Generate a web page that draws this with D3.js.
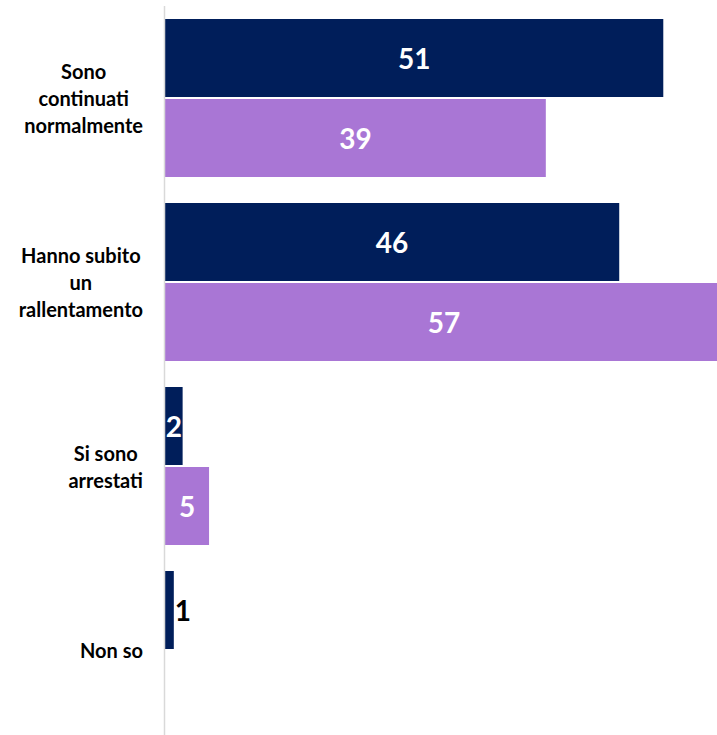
<!DOCTYPE html>
<html><head><meta charset="utf-8">
<script src="https://cdn.jsdelivr.net/npm/d3@7"></script>
<style>body{margin:0;background:#fff}svg{display:block}</style>
</head><body>
<svg id="c" width="717" height="735"></svg>
<script>
const categories = [["Sono","continuati","normalmente"],["Hanno subito","un","rallentamento"],["Si sono","arrestati"],["Non so"]];
const catKeys = ["Sono continuati normalmente","Hanno subito un rallentamento","Si sono arrestati","Non so"];
const seriesNames = ["A","B"];
const seriesA = [50.9,46.4,1.8,0.9];
const seriesB = [38.9,57,4.5,null];
const colors = {A:"#001E5A", B:"#A976D5"};

const svg = d3.select("#c");
const font = "Lato, 'Open Sans', sans-serif";
const x0 = 165;
const x = d3.scaleLinear().domain([0,57]).range([x0, x0 + 558]);
const y = d3.scaleBand().domain(catKeys).range([6,742]).paddingInner(26/184).paddingOuter(13/184);
const yi = d3.scaleBand().domain(seriesNames).range([0,y.bandwidth()]).paddingInner(2/80).paddingOuter(0);

const data = [];
catKeys.forEach((c,i)=>{
  [["A",seriesA[i]],["B",seriesB[i]]].forEach(([s,v])=>{ if(v!=null) data.push({c,s,v}); });
});

svg.append("g").selectAll("rect").data(data).join("rect")
  .attr("x", x(0)).attr("y", d=>y(d.c)+yi(d.s))
  .attr("width", d=>x(d.v)-x(0)).attr("height", yi.bandwidth())
  .attr("fill", d=>colors[d.s]);

// axis line
svg.append("line").attr("x1",x0-0.5).attr("x2",x0-0.5).attr("y1",6).attr("y2",735)
  .attr("stroke","#d9d9d9").attr("stroke-width",1.5);

const lab = svg.append("g").selectAll("text").data(data).join("text")
  .attr("font-family",font).attr("font-weight",700).attr("font-size",28)
  .attr("dominant-baseline","central")
  .attr("y", d=>y(d.c)+yi(d.s)+yi.bandwidth()/2)
  .text(d=>Math.round(d.v));
lab.each(function(d){
  const w = this.getComputedTextLength();
  const bw = x(d.v)-x(0);
  const t = d3.select(this);
  if (w < bw + 2) { t.attr("x",(x(0)+x(d.v))/2).attr("text-anchor","middle").attr("fill","#fff"); }
  else { t.attr("x",x(d.v)+1).attr("text-anchor","start").attr("fill","#000"); }
});

// category labels
const right = 143, lh = 27;
catKeys.forEach((c,i)=>{
  const lines = categories[i];
  const g = svg.append("g");
  const cy = y(c) + y.bandwidth()/2;
  const ts = lines.map((l,j)=> g.append("text").attr("font-family",font).attr("font-weight",700)
    .attr("font-size",20).attr("fill","#000").attr("text-anchor","middle").attr("dominant-baseline","central")
    .attr("y", cy + (j-(lines.length-1)/2)*lh).text(l));
  const mw = d3.max(ts, t=>t.node().getComputedTextLength());
  ts.forEach(t=>t.attr("x", right - mw/2));
});
</script>
</body></html>
